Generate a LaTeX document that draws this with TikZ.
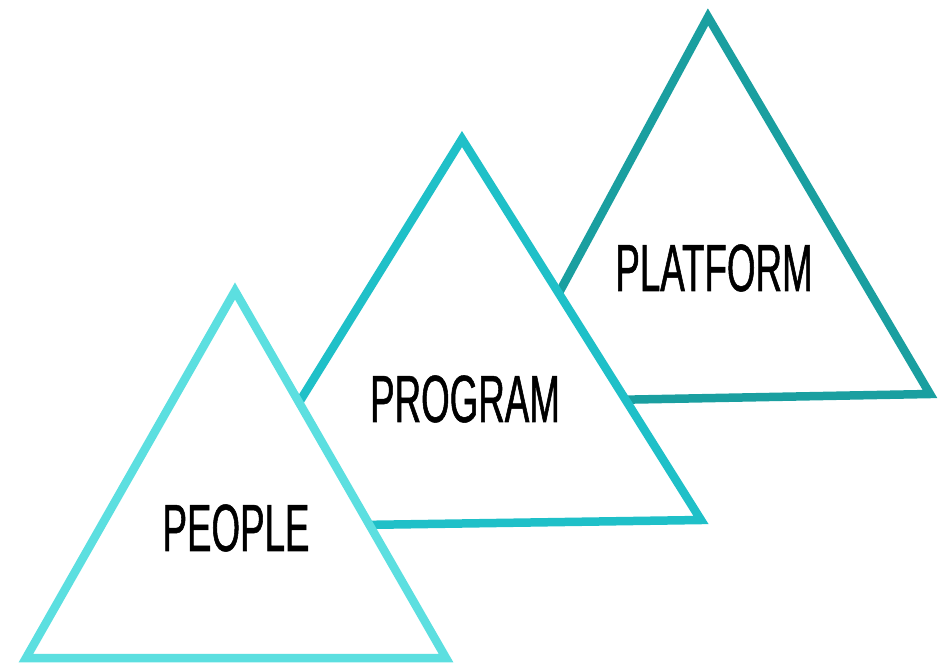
\documentclass[tikz,border=0pt]{standalone}
\usepackage{fontspec}
\usepackage{xcolor}
\usepackage{tikz}
\usetikzlibrary{positioning, calc}

\newfontfamily\tallfont[FakeStretch=0.55, FakeBold=0.8]{Liberation Sans}

\definecolor{peoplecol}{HTML}{5CDFE0}
\definecolor{programcol}{HTML}{1FC0C8}
\definecolor{platformcol}{HTML}{1A9FA0}

\begin{document}
\begin{tikzpicture}[x=0.02cm, y=-0.02cm,
  tri/.style={line width=0.17cm, line join=miter, fill=white},
  word/.style={font=\tallfont\fontsize{38}{38}\selectfont, text=black, inner sep=0pt}]

\useasboundingbox (0,0) rectangle (941,664);

% Corners
\coordinate (PL-top)   at (708,17);
\coordinate (PL-left)  at (500,402);
\coordinate (PL-right) at (930,394);

\coordinate (PR-top)   at (462,139);
\coordinate (PR-left)  at (222,527);
\coordinate (PR-right) at (701,520);

\coordinate (PE-top)   at (235,291);
\coordinate (PE-left)  at (26,658);
\coordinate (PE-right) at (446,658);

% Triangles, back to front
\draw[tri, draw=platformcol] (PL-top) -- (PL-right) -- (PL-left) -- cycle;
\draw[tri, draw=programcol]  (PR-top) -- (PR-right) -- (PR-left) -- cycle;
\draw[tri, draw=peoplecol]   (PE-top) -- (PE-right) -- (PE-left) -- cycle;

% Labels
\node[word] (platform) at (714,268) {PLATFORM};
\node[word] (program)  at (465,399) {PROGRAM};
\node[word] (people)   at (236,528) {PEOPLE};

\end{tikzpicture}
\end{document}
